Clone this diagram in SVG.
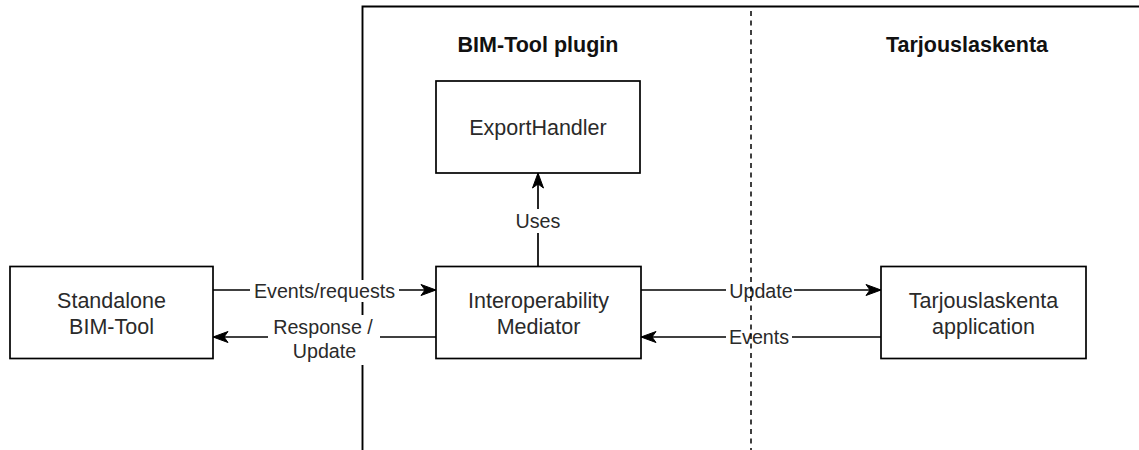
<svg xmlns="http://www.w3.org/2000/svg" width="1139" height="450" viewBox="0 0 1139 450">
<style>
.box{fill:#fff;stroke:#000;stroke-width:1.7}
.t{font-family:"Liberation Sans",Arial,sans-serif;font-size:21.5px;fill:#2a2a2a;text-anchor:middle}
.h{font-family:"Liberation Sans",Arial,sans-serif;font-size:21.5px;font-weight:bold;fill:#111;text-anchor:middle}
.lbl{font-family:"Liberation Sans",Arial,sans-serif;font-size:19.7px;fill:#2a2a2a;text-anchor:middle}
.edge{fill:none;stroke:#000;stroke-width:1.7}
.bg{fill:#fff}
</style>
<defs>
<marker id="arr" markerUnits="userSpaceOnUse" viewBox="-16 -7 17 14" refX="0" refY="0" markerWidth="17" markerHeight="14" orient="auto">
<path d="M0,0 L-15,-5.5 L-11,0 L-15,5.5 Z" fill="#000" stroke="#000" stroke-width="1"/>
</marker>
</defs>
<rect width="1139" height="450" fill="#fff"/>
<g id="frame">
<path d="M362.5,450 V6.5 H1139" fill="none" stroke="#000" stroke-width="1.9"/>
<text class="h" x="538" y="52">BIM-Tool plugin</text>
<text class="h" x="967" y="52">Tarjouslaskenta</text>
</g>
<g id="standalone">
<rect class="box" x="10" y="266.5" width="203" height="92"/>
<text class="t" x="111.5" y="308">Standalone</text>
<text class="t" x="111.5" y="334">BIM-Tool</text>
</g>
<g id="mediator">
<rect class="box" x="436" y="266.5" width="205" height="92"/>
<text class="t" x="538.5" y="308">Interoperability</text>
<text class="t" x="538.5" y="334">Mediator</text>
</g>
<g id="exporthandler">
<rect class="box" x="436" y="81" width="204" height="92"/>
<text class="t" x="538" y="135">ExportHandler</text>
</g>
<g id="tarjous">
<rect class="box" x="881" y="266.5" width="205" height="92"/>
<text class="t" x="983.5" y="308">Tarjouslaskenta</text>
<text class="t" x="983.5" y="334">application</text>
</g>
<g id="connectors">
<path class="edge" d="M213,290 H436" marker-end="url(#arr)"/>
<rect class="bg" x="250" y="280" width="149" height="22"/>
<text class="lbl" x="324.5" y="297.5">Events/requests</text>
<path class="edge" d="M436,337 H213" marker-end="url(#arr)"/>
<rect class="bg" x="268" y="315" width="112" height="50"/>
<text class="lbl" x="323" y="334">Response /</text>
<text class="lbl" x="324.5" y="358">Update</text>
<path class="edge" d="M538,266.5 V173" marker-end="url(#arr)"/>
<rect class="bg" x="520" y="209" width="36" height="24"/>
<text class="lbl" x="538" y="228">Uses</text>
<path class="edge" d="M641,290 H881" marker-end="url(#arr)"/>
<rect class="bg" x="726" y="280" width="68" height="22"/>
<text class="lbl" x="761" y="298">Update</text>
<path class="edge" d="M881,337 H641" marker-end="url(#arr)"/>
<rect class="bg" x="726" y="327" width="66" height="22"/>
<text class="lbl" x="759" y="344">Events</text>
</g>
<g id="divider">
<path d="M751,11 V450" fill="none" stroke="#000" stroke-width="1.5" stroke-dasharray="5 4.5"/>
</g>
</svg>
